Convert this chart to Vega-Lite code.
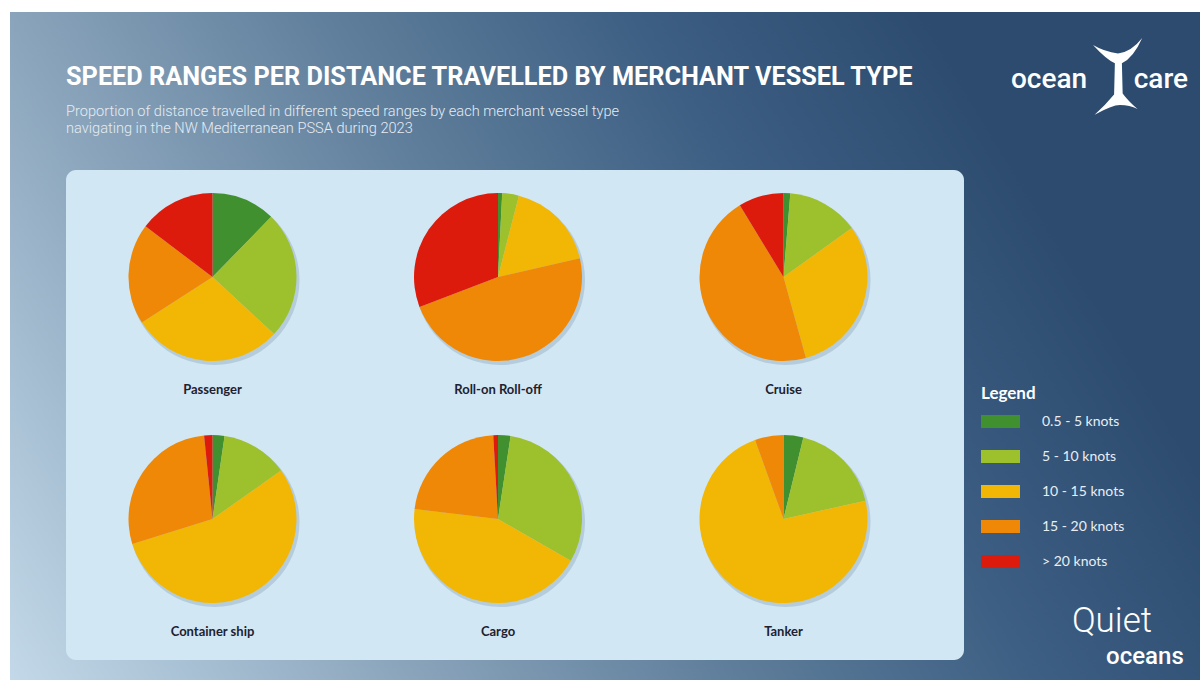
{
  "$schema": "https://vega.github.io/schema/vega-lite/v6.json",
  "width": 1190,
  "height": 668,
  "autosize": "none",
  "padding": {"left": 10, "top": 12, "right": 0, "bottom": 0},
  "background": "white",
  "config": {
    "view": {"stroke": null},
    "legend": {
      "orient": "none",
      "legendX": 971,
      "legendY": 374,
      "padding": 0,
      "symbolType": "M-1,-0.333H1V0.333H-1Z",
      "symbolSize": 1521,
      "symbolStrokeWidth": 0,
      "symbolOpacity": 1,
      "labelOffset": 22,
      "rowPadding": 8,
      "titlePadding": -1,
      "titleFont": "Lato",
      "titleFontSize": 17,
      "titleFontWeight": "bold",
      "titleColor": "#ffffff",
      "labelFont": "Lato",
      "labelFontSize": 14,
      "labelColor": "#e8eef4",
      "labelLimit": 200
    }
  },
  "title": {
    "text": "SPEED RANGES PER DISTANCE TRAVELLED BY MERCHANT VESSEL TYPE",
    "subtitle": ["Proportion of distance travelled in different speed ranges by each merchant vessel type", "navigating in the NW Mediterranean PSSA during 2023"],
    "orient": "top",
    "anchor": "start",
    "frame": "group",
    "offset": -124,
    "dx": 56,
    "font": "Roboto",
    "fontSize": 25.3,
    "fontWeight": "bold",
    "color": "#ffffff",
    "subtitleFont": "Roboto",
    "subtitleFontSize": 14.6,
    "subtitleFontWeight": 300,
    "subtitleColor": "#e4ecf3",
    "subtitlePadding": 14,
    "subtitleLineHeight": 17
  },
  "data": {
    "values": [
      {"vessel": "Passenger", "col": 0, "row": 0, "speed": "0.5 - 5 knots", "order": 1, "value": 12.3},
      {"vessel": "Passenger", "col": 0, "row": 0, "speed": "5 - 10 knots", "order": 2, "value": 24.6},
      {"vessel": "Passenger", "col": 0, "row": 0, "speed": "10 - 15 knots", "order": 3, "value": 29.0},
      {"vessel": "Passenger", "col": 0, "row": 0, "speed": "15 - 20 knots", "order": 4, "value": 19.4},
      {"vessel": "Passenger", "col": 0, "row": 0, "speed": "> 20 knots", "order": 5, "value": 14.7},
      {"vessel": "Roll-on Roll-off", "col": 1, "row": 0, "speed": "0.5 - 5 knots", "order": 1, "value": 0.8},
      {"vessel": "Roll-on Roll-off", "col": 1, "row": 0, "speed": "5 - 10 knots", "order": 2, "value": 3.2},
      {"vessel": "Roll-on Roll-off", "col": 1, "row": 0, "speed": "10 - 15 knots", "order": 3, "value": 17.4},
      {"vessel": "Roll-on Roll-off", "col": 1, "row": 0, "speed": "15 - 20 knots", "order": 4, "value": 47.8},
      {"vessel": "Roll-on Roll-off", "col": 1, "row": 0, "speed": "> 20 knots", "order": 5, "value": 30.8},
      {"vessel": "Cruise", "col": 2, "row": 0, "speed": "0.5 - 5 knots", "order": 1, "value": 1.3},
      {"vessel": "Cruise", "col": 2, "row": 0, "speed": "5 - 10 knots", "order": 2, "value": 13.8},
      {"vessel": "Cruise", "col": 2, "row": 0, "speed": "10 - 15 knots", "order": 3, "value": 30.6},
      {"vessel": "Cruise", "col": 2, "row": 0, "speed": "15 - 20 knots", "order": 4, "value": 45.6},
      {"vessel": "Cruise", "col": 2, "row": 0, "speed": "> 20 knots", "order": 5, "value": 8.7},
      {"vessel": "Container ship", "col": 0, "row": 1, "speed": "0.5 - 5 knots", "order": 1, "value": 2.3},
      {"vessel": "Container ship", "col": 0, "row": 1, "speed": "5 - 10 knots", "order": 2, "value": 12.9},
      {"vessel": "Container ship", "col": 0, "row": 1, "speed": "10 - 15 knots", "order": 3, "value": 55.0},
      {"vessel": "Container ship", "col": 0, "row": 1, "speed": "15 - 20 knots", "order": 4, "value": 28.2},
      {"vessel": "Container ship", "col": 0, "row": 1, "speed": "> 20 knots", "order": 5, "value": 1.6},
      {"vessel": "Cargo", "col": 1, "row": 1, "speed": "0.5 - 5 knots", "order": 1, "value": 2.4},
      {"vessel": "Cargo", "col": 1, "row": 1, "speed": "5 - 10 knots", "order": 2, "value": 30.9},
      {"vessel": "Cargo", "col": 1, "row": 1, "speed": "10 - 15 knots", "order": 3, "value": 43.6},
      {"vessel": "Cargo", "col": 1, "row": 1, "speed": "15 - 20 knots", "order": 4, "value": 22.2},
      {"vessel": "Cargo", "col": 1, "row": 1, "speed": "> 20 knots", "order": 5, "value": 0.9},
      {"vessel": "Tanker", "col": 2, "row": 1, "speed": "0.5 - 5 knots", "order": 1, "value": 3.8},
      {"vessel": "Tanker", "col": 2, "row": 1, "speed": "5 - 10 knots", "order": 2, "value": 17.7},
      {"vessel": "Tanker", "col": 2, "row": 1, "speed": "10 - 15 knots", "order": 3, "value": 73.0},
      {"vessel": "Tanker", "col": 2, "row": 1, "speed": "15 - 20 knots", "order": 4, "value": 5.5},
      {"vessel": "Tanker", "col": 2, "row": 1, "speed": "> 20 knots", "order": 5, "value": 0.0}
    ]
  },
  "layer": [
    {
      "transform": [{"aggregate": [], "groupby": ["vessel"]}, {"filter": "datum.vessel === 'Passenger'"}],
      "mark": {
        "type": "rect",
        "color": {
          "gradient": "linear",
          "x1": 0, "y1": 1, "x2": 0.992, "y2": 0.663,
          "stops": [
            {"offset": 0, "color": "#c3d9e9"},
            {"offset": 0.3, "color": "#8ba5bc"},
            {"offset": 0.55, "color": "#5f7e9b"},
            {"offset": 0.78, "color": "#3d5f83"},
            {"offset": 1, "color": "#2c4b6f"}
          ]
        }
      },
      "encoding": {}
    },
    {
      "transform": [{"aggregate": [], "groupby": ["vessel"]}, {"filter": "datum.vessel === 'Passenger'"}],
      "mark": {"type": "rect", "color": "#d2e7f4", "cornerRadius": 10},
      "encoding": {
        "x": {"datum": -0.5131, "type": "quantitative", "scale": {"domain": [0, 2], "range": [202.5, 773.5], "nice": false, "zero": false}, "axis": null},
        "x2": {"datum": 2.6322},
        "y": {"datum": -0.4421, "type": "quantitative", "scale": {"domain": [0, 1], "range": [265, 507], "nice": false, "zero": false}, "axis": null},
        "y2": {"datum": 1.5826}
      }
    },
    {
      "transform": [{"aggregate": [], "groupby": ["vessel", "col", "row"]}],
      "mark": {"type": "arc", "outerRadius": 85, "theta": 0, "theta2": 6.2832, "color": "#7d9bb0", "opacity": 0.35, "xOffset": 2, "yOffset": 3},
      "encoding": {
        "x": {"field": "col", "type": "quantitative", "scale": {"domain": [0, 2], "range": [202.5, 773.5], "nice": false, "zero": false}, "axis": null},
        "y": {"field": "row", "type": "quantitative", "scale": {"domain": [0, 1], "range": [265, 507], "nice": false, "zero": false}, "axis": null}
      }
    },
    {
      "transform": [
        {"stack": "value", "groupby": ["vessel"], "sort": [{"field": "order", "order": "ascending"}], "offset": "normalize", "as": ["t0", "t1"]}
      ],
      "mark": {"type": "arc", "outerRadius": 84, "strokeWidth": 0},
      "encoding": {
        "x": {"field": "col", "type": "quantitative", "scale": {"domain": [0, 2], "range": [202.5, 773.5], "nice": false, "zero": false}, "axis": null},
        "y": {"field": "row", "type": "quantitative", "scale": {"domain": [0, 1], "range": [265, 507], "nice": false, "zero": false}, "axis": null},
        "theta": {"field": "t0", "type": "quantitative", "scale": {"domain": [0, 1], "range": [0, 6.283185307]}},
        "theta2": {"field": "t1"},
        "color": {
          "field": "speed",
          "type": "nominal",
          "scale": {
            "domain": ["0.5 - 5 knots", "5 - 10 knots", "10 - 15 knots", "15 - 20 knots", "> 20 knots"],
            "range": ["#41902f", "#9dc12c", "#f2b705", "#ef8807", "#dc1b0d"]
          },
          "legend": {"title": "Legend"}
        }
      }
    },
    {
      "transform": [{"aggregate": [], "groupby": ["vessel", "col", "row"]}],
      "mark": {"type": "text", "dy": 113, "font": "Lato", "fontSize": 13, "fontWeight": "bold", "color": "#1d2130", "baseline": "middle", "align": "center"},
      "encoding": {
        "x": {"field": "col", "type": "quantitative", "scale": {"domain": [0, 2], "range": [202.5, 773.5], "nice": false, "zero": false}, "axis": null},
        "y": {"field": "row", "type": "quantitative", "scale": {"domain": [0, 1], "range": [265, 507], "nice": false, "zero": false}, "axis": null},
        "text": {"field": "vessel"}
      }
    },
    {
      "transform": [{"aggregate": [], "groupby": ["vessel"]}, {"filter": "datum.vessel === 'Passenger'"}],
      "mark": {"type": "text", "font": "Roboto", "fontSize": 28, "fontWeight": 500, "color": "#ffffff", "baseline": "alphabetic", "align": "center"},
      "encoding": {
        "x": {"datum": 2.93, "type": "quantitative", "scale": {"domain": [0, 2], "range": [202.5, 773.5], "nice": false, "zero": false}, "axis": null},
        "y": {"datum": -0.781, "type": "quantitative", "scale": {"domain": [0, 1], "range": [265, 507], "nice": false, "zero": false}, "axis": null},
        "text": {"value": "ocean"}
      }
    },
    {
      "transform": [{"aggregate": [], "groupby": ["vessel"]}, {"filter": "datum.vessel === 'Passenger'"}],
      "mark": {"type": "text", "font": "Roboto", "fontSize": 28, "fontWeight": 500, "color": "#ffffff", "baseline": "alphabetic", "align": "center"},
      "encoding": {
        "x": {"datum": 3.322, "type": "quantitative", "scale": {"domain": [0, 2], "range": [202.5, 773.5], "nice": false, "zero": false}, "axis": null},
        "y": {"datum": -0.781, "type": "quantitative", "scale": {"domain": [0, 1], "range": [265, 507], "nice": false, "zero": false}, "axis": null},
        "text": {"value": "care"}
      }
    },
    {
      "transform": [{"aggregate": [], "groupby": ["vessel"]}, {"filter": "datum.vessel === 'Passenger'"}],
      "mark": {
        "type": "point",
        "filled": true,
        "opacity": 1,
        "color": "#ffffff",
        "size": 6084,
        "shape": "M-0.64,-0.82Q-0.3,-0.45-0.08,-0.35L-0.1,0.45Q-0.35,0.75-0.6,0.97Q-0.15,0.72 0.05,0.72Q0.3,0.72 0.5,0.82Q0.25,0.6 0.12,0.42L0.1,-0.35Q0.4,-0.5 0.62,-1Q0.35,-0.65 0,-0.6Q-0.35,-0.65-0.64,-0.82Z"
      },
      "encoding": {
        "x": {"datum": 3.1716, "type": "quantitative", "scale": {"domain": [0, 2], "range": [202.5, 773.5], "nice": false, "zero": false}, "axis": null},
        "y": {"datum": -0.8264, "type": "quantitative", "scale": {"domain": [0, 1], "range": [265, 507], "nice": false, "zero": false}, "axis": null}
      }
    },
    {
      "transform": [{"aggregate": [], "groupby": ["vessel"]}, {"filter": "datum.vessel === 'Passenger'"}],
      "mark": {"type": "text", "font": "Roboto", "fontSize": 35, "fontWeight": 300, "color": "#ffffff", "baseline": "alphabetic", "align": "center"},
      "encoding": {
        "x": {"datum": 3.1506, "type": "quantitative", "scale": {"domain": [0, 2], "range": [202.5, 773.5], "nice": false, "zero": false}, "axis": null},
        "y": {"datum": 1.4669, "type": "quantitative", "scale": {"domain": [0, 1], "range": [265, 507], "nice": false, "zero": false}, "axis": null},
        "text": {"value": "Quiet"}
      }
    },
    {
      "transform": [{"aggregate": [], "groupby": ["vessel"]}, {"filter": "datum.vessel === 'Passenger'"}],
      "mark": {"type": "text", "font": "Roboto", "fontSize": 24, "fontWeight": 500, "color": "#ffffff", "baseline": "alphabetic", "align": "center"},
      "encoding": {
        "x": {"datum": 3.266, "type": "quantitative", "scale": {"domain": [0, 2], "range": [202.5, 773.5], "nice": false, "zero": false}, "axis": null},
        "y": {"datum": 1.5992, "type": "quantitative", "scale": {"domain": [0, 1], "range": [265, 507], "nice": false, "zero": false}, "axis": null},
        "text": {"value": "oceans"}
      }
    }
  ]
}
